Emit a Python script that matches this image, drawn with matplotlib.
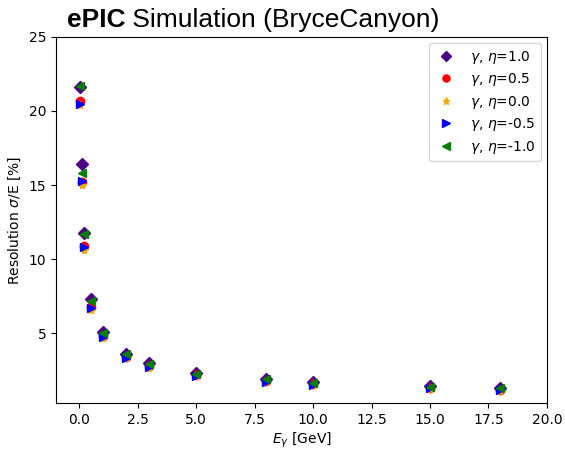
import numpy as np
import matplotlib
matplotlib.use("Agg")
import matplotlib.pyplot as plt

# beam energies [GeV]
energies = [0.05, 0.1, 0.2, 0.5, 1, 2, 3, 5, 8, 10, 15, 18]

# resolution sigma/E [%] per pseudorapidity
res_eta_p10 = [21.6, 16.4, 11.8, 7.3, 5.1, 3.65, 3.0, 2.35, 1.95, 1.7, 1.45, 1.3]
res_eta_p05 = [20.7, 15.2, 10.9, 6.8, 4.8, 3.4, 2.8, 2.2, 1.8, 1.6, 1.3, 1.2]
res_eta_00 = [20.4, 15.0, 10.6, 6.6, 4.7, 3.35, 2.7, 2.15, 1.7, 1.55, 1.25, 1.15]
res_eta_m05 = [20.5, 15.3, 10.8, 6.7, 4.75, 3.35, 2.75, 2.15, 1.75, 1.55, 1.3, 1.2]
res_eta_m10 = [21.7, 15.8, 11.7, 7.2, 5.0, 3.6, 2.95, 2.3, 1.9, 1.65, 1.4, 1.3]

etas = ["1.0", "0.5", "0.0", "-0.5", "-1.0"]
series = [res_eta_p10, res_eta_p05, res_eta_00, res_eta_m05, res_eta_m10]
markers = ["D", "o", "*", ">", "<"]
colors = ["indigo", "red", "orange", "blue", "green"]

fig = plt.figure(figsize=(5.65, 4.49), dpi=100)
ax = fig.add_axes([0.099, 0.102, 0.869, 0.816])

for eta, res, mk, col in zip(etas, series, markers, colors):
    ax.plot(energies, res, linestyle="none", marker=mk, color=col, markersize=6,
            label=fr"$\gamma$, $\eta$={eta}")

ax.set_xlim(-1, 20)
ax.set_ylim(0.3, 25)
ax.set_xticks(np.arange(0, 20.1, 2.5))
ax.set_yticks([5, 10, 15, 20, 25])
ax.set_xlabel(r"$E_{\gamma}$ [GeV]", labelpad=2.5)
ax.set_ylabel(r"Resolution $\sigma$/E [%]")
ax.legend(loc="upper right", fontsize=10, markerscale=0.85, labelspacing=0.4,
          handlelength=1.6, handletextpad=0.9, borderaxespad=0.45)

# title: bold "ePIC" followed by normal text
renderer = fig.canvas.get_renderer()
t1 = fig.text(0.118, 0.94, "ePIC", fontsize=19, fontweight="bold",
              family="Liberation Sans", va="baseline")
bb = t1.get_window_extent(renderer=renderer)
x2 = bb.x1 / fig.bbox.width
fig.text(x2, 0.94, " Simulation (BryceCanyon)", fontsize=19,
         family="Liberation Sans", va="baseline")

fig.savefig("out.png", dpi=100)
